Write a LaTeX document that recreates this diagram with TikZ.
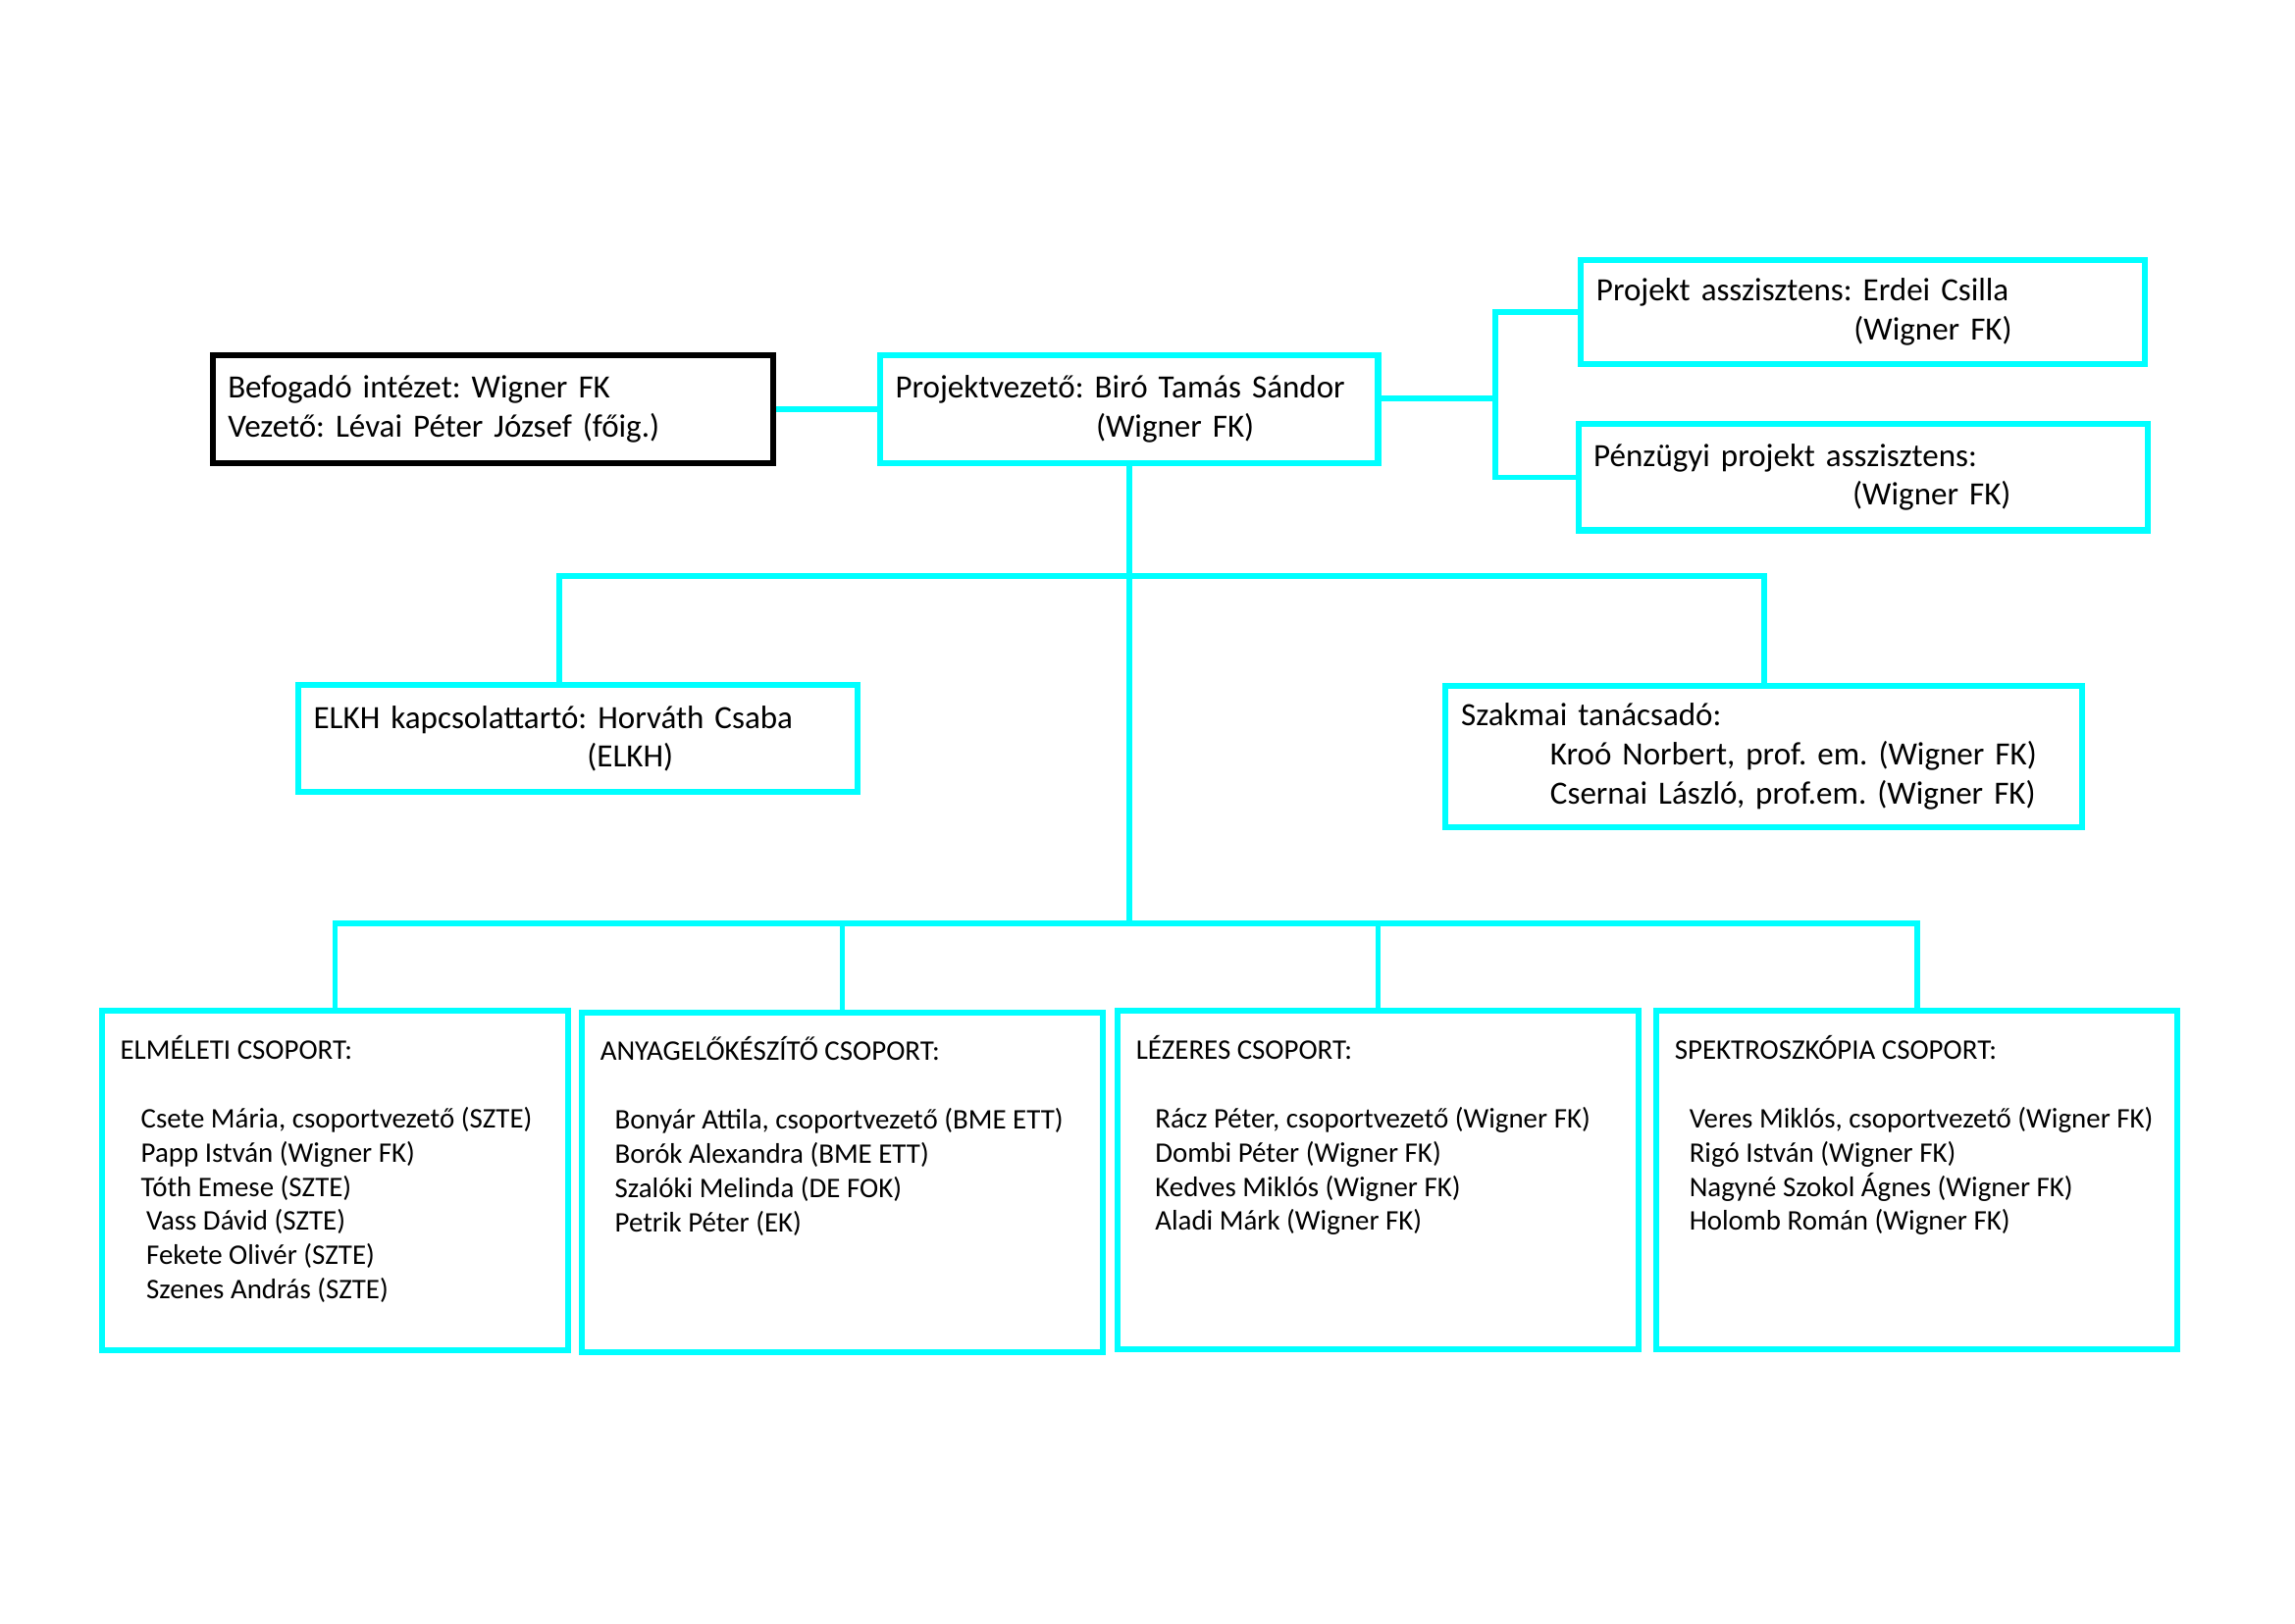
\documentclass[tikz,border=0pt]{standalone}
\usepackage{fontspec}
\setmainfont{Carlito}
\usepackage{tikz}
\usetikzlibrary{positioning}
\definecolor{boxcyan}{RGB}{0,255,255}
\frenchspacing

\begin{document}
\begin{tikzpicture}[x=1mm, y=1mm,
  box/.style = {draw=boxcyan, line width=2.2pt, align=left, inner xsep=2mm, inner ysep=0pt,
                font=\fontsize{12}{14.4}\selectfont},
  grp/.style = {box, anchor=north, inner xsep=2.4mm, font=\fontsize{10.5}{12.7}\selectfont},
  link/.style = {draw=boxcyan, line width=2.1pt}]
\useasboundingbox (0,0) rectangle (298.6,-211.2);

\node[box, draw=black, text width=68.9mm, minimum height=14mm] (host) at (64.1,-53.2)
  {Befogadó intézet: Wigner FK\\ Vezető: Lévai Péter József (főig.)};
\node[box, text width=60.8mm, minimum height=14mm] (leader) at (146.9,-53.2)
  {Projektvezető: Biró Tamás Sándor\\ \hspace*{26.1mm}(Wigner FK)};
\node[box, text width=69.4mm, minimum height=13.6mm] (asst_1) at (242.4,-40.6)
  {Projekt asszisztens: Erdei Csilla\\ \hspace*{33.5mm}(Wigner FK)};
\node[box, text width=70.1mm, minimum height=13.8mm] (asst_2) at (242.4,-62.1)
  {Pénzügyi projekt asszisztens:\\ \hspace*{33.7mm}(Wigner FK)};
\node[box, text width=68.8mm, minimum height=13.9mm] (elkh) at (75.2,-96.1)
  {ELKH kapcsolattartó: Horváth Csaba\\ \hspace*{35.6mm}(ELKH)};
\node[box, text width=78.8mm, minimum height=18.4mm] (advisor) at (229.5,-98.4)
  {Szakmai tanácsadó:\\ \hspace*{11.6mm}Kroó Norbert, prof. em. (Wigner FK)\\
   \hspace*{11.6mm}Csernai László, prof.em. (Wigner FK)};

% csoportok
\node[grp] (grp_1) at (43.6,-131.1) {\parbox[t][44.2mm][t]{55.9mm}{\vspace*{3.2mm}
  ELMÉLETI CSOPORT:\\[12.7pt]
  \hspace*{2.7mm}Csete Mária, csoportvezető (SZTE)\\ \hspace*{2.7mm}Papp István (Wigner FK)\\
  \hspace*{2.7mm}Tóth Emese (SZTE)\\ \hspace*{3.4mm}Vass Dávid (SZTE)\\
  \hspace*{3.4mm}Fekete Olivér (SZTE)\\ \hspace*{3.4mm}Szenes András (SZTE)}};
\node[grp] (grp_2) at (109.6,-131.3) {\parbox[t][44.2mm][t]{63mm}{\vspace*{3.2mm}
  ANYAGELŐKÉSZÍTŐ CSOPORT:\\[12.7pt]
  \hspace*{1.9mm}Bonyár Attila, csoportvezető (BME ETT)\\ \hspace*{1.9mm}Borók Alexandra (BME ETT)\\
  \hspace*{1.9mm}Szalóki Melinda (DE FOK)\\ \hspace*{1.9mm}Petrik Péter (EK)}};
\node[grp] (grp_3) at (179.3,-131.1) {\parbox[t][44mm][t]{63mm}{\vspace*{3.2mm}
  LÉZERES CSOPORT:\\[12.7pt]
  \hspace*{2.5mm}Rácz Péter, csoportvezető (Wigner FK)\\ \hspace*{2.5mm}Dombi Péter (Wigner FK)\\
  \hspace*{2.5mm}Kedves Miklós (Wigner FK)\\ \hspace*{2.5mm}Aladi Márk (Wigner FK)}};
\node[grp] (grp_4) at (249.4,-131.1) {\parbox[t][44mm][t]{63mm}{\vspace*{3.2mm}
  SPEKTROSZKÓPIA CSOPORT:\\[12.7pt]
  \hspace*{1.9mm}Veres Miklós, csoportvezető (Wigner FK)\\ \hspace*{1.9mm}Rigó István (Wigner FK)\\
  \hspace*{1.9mm}Nagyné Szokol Ágnes (Wigner FK)\\ \hspace*{1.9mm}Holomb Román (Wigner FK)}};

\coordinate (brk) at (194.6,-51.8);
\coordinate (bar_1) at (146.9,-74.9);
\coordinate (bar_2) at (146.9,-120.1);

\path[link] (host) edge (leader);
\draw[link] (leader.east |- brk) -- (brk);
\draw[link] (asst_1.west) -| (brk) |- (asst_2.west);
\draw[link] (leader.south) -- (bar_2);
\draw[link] ([xshift=-2.4mm]elkh.north) |- (bar_1) -| (advisor.north);
\draw[link] (grp_1.north) |- (bar_2) -| (grp_4.north);
\foreach \g in {2,3}
  \draw[link] (grp_\g.north) -- (grp_\g.north |- bar_2);
\end{tikzpicture}
\end{document}
